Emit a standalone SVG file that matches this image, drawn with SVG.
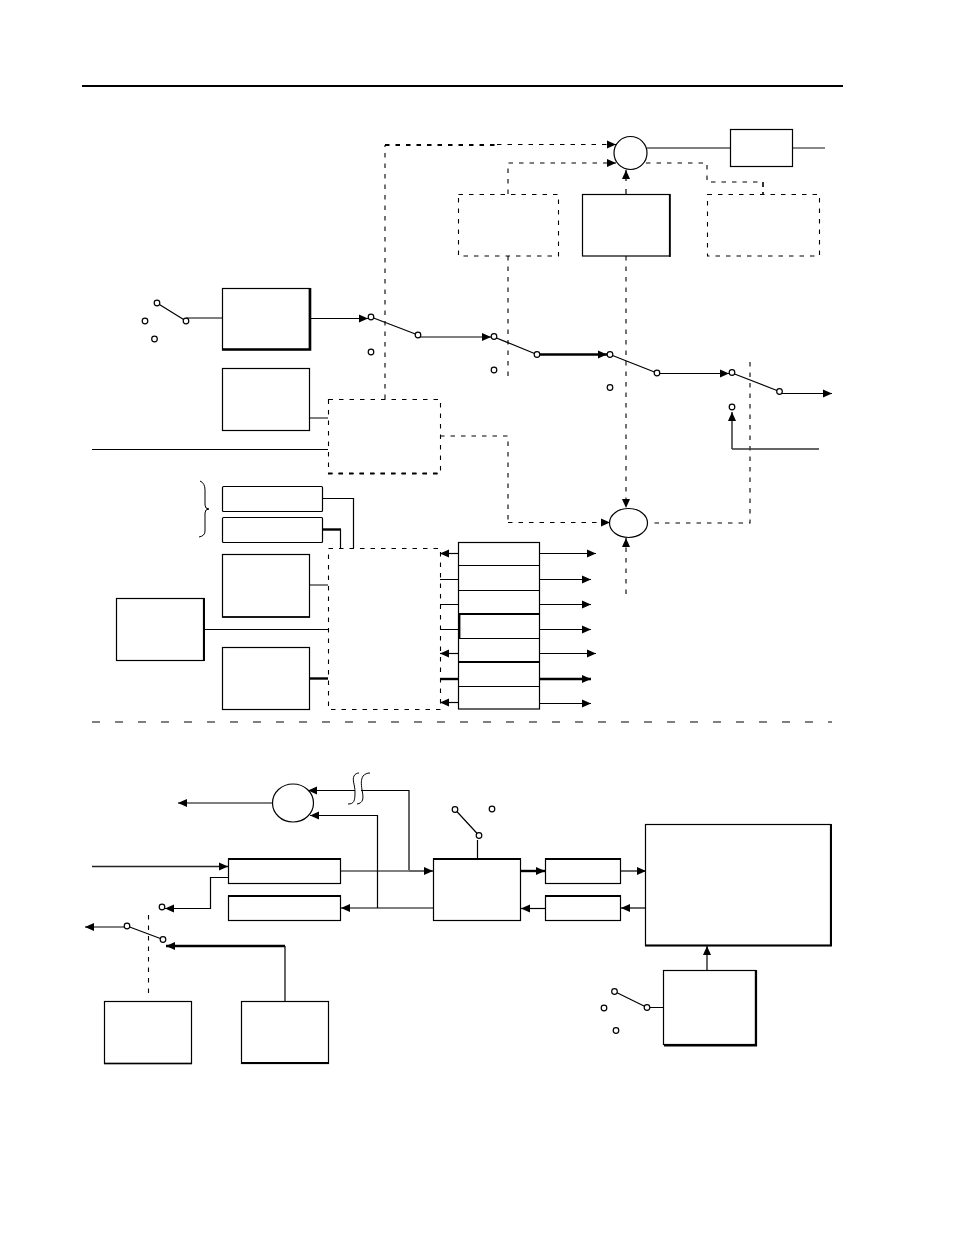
<svg xmlns="http://www.w3.org/2000/svg" width="954" height="1235" viewBox="0 0 954 1235">
<style>
.b{fill:#fff;stroke:#000;stroke-width:1.2}
.d{fill:none;stroke:#000;stroke-width:1.1;stroke-dasharray:4.500 6}
.t{fill:none;stroke:#000;stroke-width:2.6}
.l{fill:none;stroke:#000;stroke-width:1.2}
.h{fill:none;stroke:#000;stroke-width:2.4}
.o{fill:#fff;stroke:#000;stroke-width:1.2}
.a{marker-end:url(#ah)}
</style>
<defs>
<marker id="ah" markerUnits="userSpaceOnUse" markerWidth="10" markerHeight="9" refX="9" refY="4.500" orient="auto"><path d="M0 0.500L9 4.500L0 8.500Z" fill="#000"/></marker>
</defs>
<rect width="954" height="1235" fill="#fff"/>
<path id="top-rule" d="M82 86H843" fill="none" stroke="#000" stroke-width="2"/>
<g id="connectors">
<path class="d" d="M385 399V145"/>
<path class="d" d="M385 145H497" style="stroke-width:2"/>
<path class="d a" d="M497 144.500H616"/>
<path class="d a" d="M508 194V163H616"/>
<path class="d" d="M646 163H707V182H763"/>
<path d="M763 182V194" fill="none" stroke="#000" stroke-width="1.600" stroke-dasharray="5 5"/>
<path class="l a" d="M626 181V170"/>
<path class="l" d="M626 189V194"/>
<path class="d" d="M508 256V380"/>
<path class="d a" d="M626 256V508"/>
<path class="l" d="M647 148H730"/>
<path d="M793 148H825" fill="none" stroke="#555" stroke-width="1.400"/>
<path class="l" d="M186 318H222"/>
<path class="l a" d="M310 318.500H368"/>
<path class="l a" d="M418 337H491"/>
<path class="h a" d="M537 354.500H607"/>
<path class="l a" d="M657 373.500H729"/>
<path class="l a" d="M780 393.500H832"/>
<path class="l" d="M157 303L186 321M371 317L418 335M494 337L537 354.500M610 354.500L657 373M732 373L779.500 391.500"/>
<path class="d" d="M750 362V523H651"/>
<path class="d" d="M440 436H508V523"/>
<path class="d a" d="M508 522.500H610"/>
<path class="d a" d="M626 594V538"/>
<path class="l a" d="M732 449V412"/>
<path d="M732 449H819" fill="none" stroke="#333" stroke-width="1.300"/>
<path class="l" d="M310 418H328M92 449.500H328"/>
<path class="l" d="M323 498.500H353.500V548"/>
<path class="l" d="M340.500 529.500V548"/>
<path class="h" d="M323 529.500H341"/>
<path class="l" d="M310 585H328M204 629.500H328"/>
<path class="h" d="M310 678.500H328"/>
<path class="l a" d="M458 553.500H440"/>
<path class="l" d="M440 579.500H458M440 604.500H458M440 629.500H458"/>
<path class="l a" d="M458 653.500H440"/>
<path class="h" d="M440 679H458"/>
<path class="l a" d="M458 702.500H440"/>
<path class="l a" d="M540 553.500H596"/>
<path class="l a" d="M540 579.500H591"/>
<path class="l a" d="M540 604.500H591"/>
<path class="l a" d="M540 629.500H591"/>
<path class="l a" d="M540 653.500H596"/>
<path class="h a" d="M540 679H591"/>
<path class="l a" d="M540 703.500H591"/>
<path d="M92 722H832" fill="none" stroke="#000" stroke-width="1.200" stroke-dasharray="8 15"/>
<path d="M200 481Q205 483 205 490V505Q205 509 209 509Q205 509 205 513V531Q205 536 199 537" fill="none" stroke="#000" stroke-width="1"/>
<path class="l a" d="M272 803H178"/>
<path class="l" d="M409 870V790.500H361"/>
<path class="l a" d="M355 790.500H308"/>
<path class="l a" d="M377.500 908V815.500H310"/>
<path d="M348 804C354 804 355 801 355 792C355 785 352 780 354 776C355 774 357 773 359 773M357 804C363 803 364 799 362 790C361 783 361 780 363 776C365 774 367 773 370 773" fill="none" stroke="#000" stroke-width="1"/>
<path class="l" d="M340 871H409"/>
<path class="l a" d="M409 871H433"/>
<path class="l a" d="M433 908H341"/>
<path d="M92 866.500H228" fill="none" stroke="#222" stroke-width="1.400" class="a"/>
<path class="l a" d="M228 877.500H210.500V908.500H165"/>
<path class="l a" d="M127 927H85"/>
<path class="l" d="M127 926L163 939.500"/>
<path class="l" d="M285 1001V946"/>
<path class="h a" d="M285 946H166"/>
<path class="d" d="M148.500 915V997"/>
<path class="l" d="M477.500 840V858M455 809.500L479 835.500"/>
<path class="h a" d="M521 871H545"/>
<path class="l a" d="M620 871H646"/>
<path class="l a" d="M645 908H621"/>
<path class="l a" d="M545 908.500H521"/>
<path class="l a" d="M707 970V946"/>
<path class="l" d="M614.500 991.500L647 1007.500M647 1007.500H663"/>
</g>
<g id="sum-top"><circle class="b" cx="630.500" cy="153" r="16.500"/></g>
<g id="box-out"><rect class="b" x="730.500" y="129.500" width="62" height="37"/></g>
<g id="dash-left"><rect class="d" x="458.500" y="194.500" width="100" height="61.500"/></g>
<g id="box-mid"><rect class="b" x="582.500" y="194.500" width="87" height="61.500"/><path class="h" d="M670 194V257" style="stroke-width:1.600"/></g>
<g id="dash-right"><rect class="d" x="707.500" y="194.500" width="112" height="61.500"/></g>
<g id="box-a"><rect class="b" x="222.500" y="288.500" width="87" height="61"/><path class="t" d="M310 288V349.500H222"/></g>
<g id="box-b"><rect class="b" x="222.500" y="368.500" width="87" height="62"/></g>
<g id="dash-center"><rect class="d" x="328.500" y="399.500" width="112" height="74"/><path class="d" d="M328 473.500H441" style="stroke-width:2"/></g>
<g id="sum-bottom"><ellipse class="b" cx="628.500" cy="523" rx="19" ry="14.500"/></g>
<g id="box-c"><rect class="b" x="222.500" y="486.500" width="100" height="25" rx="1"/></g>
<g id="box-d"><rect class="b" x="222.500" y="517.500" width="100" height="25" rx="1"/></g>
<g id="box-e"><rect class="b" x="222.500" y="554.500" width="87" height="62.500"/><path class="h" d="M222 617H310" style="stroke-width:1.600"/></g>
<g id="box-f"><rect class="b" x="116.500" y="598.500" width="87" height="62"/><path class="h" d="M204 598V661" style="stroke-width:2"/></g>
<g id="box-g"><rect class="b" x="222.500" y="647.500" width="87" height="62"/></g>
<g id="dash-bus"><rect class="d" x="328.500" y="548.500" width="112" height="161"/></g>
<g id="stack">
<rect class="b" x="458.500" y="542.500" width="81" height="166.500"/>
<path class="l" d="M458 565.500H540M458 590.500H540M458 638.500H540M458 686.500H540"/>
<path class="h" d="M458 614H540M458 662H540M459.500 614V639" style="stroke-width:1.800"/>
</g>
<g id="sum-lower"><ellipse class="b" cx="293" cy="803" rx="20.500" ry="19"/></g>
<g id="box-h"><rect class="b" x="228.500" y="859" width="112" height="24.500"/><path class="l" d="M228 859H341" style="stroke-width:2"/></g>
<g id="box-i"><rect class="b" x="228.500" y="896" width="112" height="24.500"/><path class="l" d="M228 896H341" style="stroke-width:2"/></g>
<g id="box-j"><rect class="b" x="104.500" y="1001.500" width="87" height="62"/><path class="l" d="M104 1063.500H192" style="stroke-width:1.600"/></g>
<g id="box-k"><rect class="b" x="241.500" y="1001.500" width="87" height="62"/><path class="l" d="M241 1063H329" style="stroke-width:2.200"/></g>
<g id="box-l"><rect class="b" x="433.500" y="859" width="87" height="61.500"/><path class="l" d="M433 859H521" style="stroke-width:2"/></g>
<g id="box-m"><rect class="b" x="545.500" y="859" width="75" height="24.500"/><path class="l" d="M545 859H621" style="stroke-width:2"/></g>
<g id="box-n"><rect class="b" x="545.500" y="896" width="75" height="24.500"/><path class="l" d="M545 896H621" style="stroke-width:2"/></g>
<g id="box-main"><rect class="b" x="645.500" y="824.500" width="185" height="121"/><path class="t" d="M831 824V945.500H645" style="stroke-width:2"/></g>
<g id="box-p"><rect class="b" x="663.500" y="970.500" width="92" height="74"/><path class="t" d="M756 970V1045.500H664" style="stroke-width:2.200"/></g>
<g id="terminals">
<circle class="o" cx="157" cy="303" r="2.800"/><circle class="o" cx="186" cy="321" r="2.800"/><circle class="o" cx="145" cy="321" r="2.800"/><circle class="o" cx="154.500" cy="339" r="2.800"/>
<circle class="o" cx="371" cy="317" r="2.800"/><circle class="o" cx="418" cy="335" r="2.800"/><circle class="o" cx="371" cy="352" r="2.800"/>
<circle class="o" cx="494" cy="336.500" r="2.800"/><circle class="o" cx="537" cy="354.500" r="2.800"/><circle class="o" cx="494" cy="370" r="2.800"/>
<circle class="o" cx="610" cy="354.500" r="2.800"/><circle class="o" cx="657" cy="373" r="2.800"/><circle class="o" cx="610" cy="387.500" r="2.800"/>
<circle class="o" cx="732" cy="372.500" r="2.800"/><circle class="o" cx="779.500" cy="391.500" r="2.800"/><circle class="o" cx="732" cy="407" r="2.800"/>
<circle class="o" cx="162" cy="907" r="2.800"/><circle class="o" cx="127" cy="926" r="2.800"/><circle class="o" cx="163" cy="939.500" r="2.800"/>
<circle class="o" cx="455" cy="809.500" r="2.800"/><circle class="o" cx="492" cy="809" r="2.800"/><circle class="o" cx="479" cy="835.500" r="2.800"/>
<circle class="o" cx="614.500" cy="991.500" r="2.800"/><circle class="o" cx="647" cy="1007.500" r="2.800"/><circle class="o" cx="604" cy="1008" r="2.800"/><circle class="o" cx="616" cy="1030.500" r="2.800"/>
</g>
</svg>
